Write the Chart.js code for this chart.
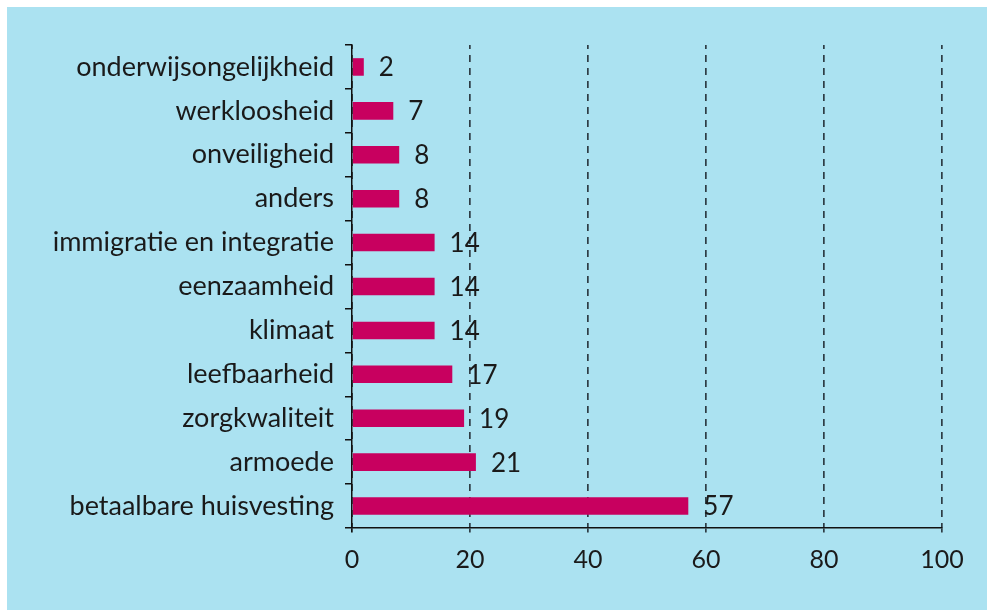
<!DOCTYPE html>
<html><head><meta charset="utf-8">
<script src="https://cdn.jsdelivr.net/npm/chart.js@4/dist/chart.umd.min.js"></script>
<style>
html,body{margin:0;padding:0;background:#fff;}
#wrap{position:absolute;left:7px;top:7px;width:980px;height:603px;background:#abe2f1;}
canvas{display:block;}
</style></head>
<body>
<div id="wrap"><canvas id="c" width="980" height="603"></canvas></div>
<script>
const categories = ["onderwijsongelijkheid","werkloosheid","onveiligheid","anders","immigratie en integratie","eenzaamheid","klimaat","leefbaarheid","zorgkwaliteit","armoede","betaalbare huisvesting"];
const values = [2,7,8,8,14,14,14,17,19,21,57];
const xTicks = [0,20,40,60,80,100];

const FONT = "Lato";
const TXT = "#1a1a1a";

const valueLabels = {
  id:'valueLabels',
  afterDatasetsDraw(chart){
    const ctx = chart.ctx;
    const meta = chart.getDatasetMeta(0);
    ctx.save();
    ctx.font = "26px " + FONT;
    ctx.fillStyle = TXT;
    ctx.textBaseline = "middle";
    ctx.textAlign = "left";
    meta.data.forEach((bar,i)=>{
      ctx.fillText(String(values[i]), bar.x + 15, bar.y + 1);
    });
    ctx.restore();
  }
};

new Chart(document.getElementById('c'), {
  type:'bar',
  data:{labels:categories, datasets:[{data:values, backgroundColor:'#c8005f', barPercentage:0.4, categoryPercentage:1}]},
  options:{
    indexAxis:'y', responsive:false, animation:false,
    layout:{padding:{top:38,right:45,left:0,bottom:0}},
    plugins:{legend:{display:false}, tooltip:{enabled:false}},
    scales:{
      x:{min:0,max:100,
        afterBuildTicks(s){ s.ticks = xTicks.map(v=>({value:v})); },
        afterFit(s){ s.height = 82; },
        border:{display:true,color:'#111',width:1.5,dash:[7,6],dashOffset:3},
        grid:{display:true,drawOnChartArea:true,drawTicks:true,tickLength:8,
          color:(c)=> c.index===0 ? '#111' : '#2e3d45',
          lineWidth:1.7, tickBorderDash:[4,4], tickBorderDashOffset:0},
        ticks:{font:{family:FONT,size:25},color:TXT,padding:9}
      },
      y:{
        afterFit(s){ s.width = 345; },
        border:{display:true,color:'#111',width:1.5},
        grid:{display:true,drawOnChartArea:false,drawTicks:true,tickLength:7,color:'#111',lineWidth:1.5,offset:true},
        ticks:{font:{family:FONT,size:27},color:TXT,padding:11}
      }
    }
  },
  plugins:[valueLabels]
});
</script>
</body></html>
